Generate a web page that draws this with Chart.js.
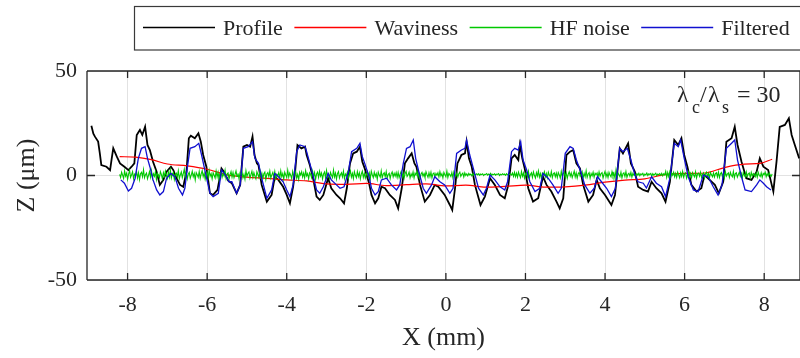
<!DOCTYPE html>
<html>
<head>
<meta charset="utf-8">
<script src="https://cdn.jsdelivr.net/npm/chart.js@4"></script>
<style>
  html, body { margin: 0; padding: 0; background: #fff; }
  #wrap { width: 800px; height: 358px; }
</style>
</head>
<body>
<div id="wrap"><canvas id="chart" width="800" height="358"></canvas></div>
<script>
// tick labels
const xTicks = [-8, -6, -4, -2, 0, 2, 4, 6, 8];
const yTicks = [-50, 0, 50];

// measured profile (mm, um)
const profileX = [-8.91,-8.86,-8.82,-8.74,-8.70,-8.66,-8.53,-8.44,-8.40,-8.36,-8.27,-8.19,-8.08,-7.98,-7.90,-7.83,-7.77,-7.69,-7.63,-7.56,
  -7.50,-7.44,-7.36,-7.27,-7.19,-7.10,-7.02,-6.91,-6.85,-6.77,-6.68,-6.60,-6.52,-6.46,-6.41,-6.31,-6.22,-6.16,-6.10,-6.02,
  -5.93,-5.85,-5.74,-5.64,-5.58,-5.47,-5.38,-5.26,-5.17,-5.09,-5.00,-4.92,-4.86,-4.81,-4.75,-4.71,-4.63,-4.50,-4.38,-4.30,
  -4.21,-4.09,-4.00,-3.92,-3.84,-3.79,-3.73,-3.63,-3.54,-3.50,-3.42,-3.33,-3.25,-3.17,-3.08,-2.96,-2.88,-2.75,-2.66,-2.56,
  -2.49,-2.41,-2.33,-2.24,-2.16,-2.10,-2.04,-1.93,-1.87,-1.78,-1.70,-1.62,-1.53,-1.41,-1.28,-1.20,-1.11,-1.03,-0.95,-0.86,
  -0.79,-0.74,-0.65,-0.53,-0.40,-0.28,-0.19,-0.03,0.10,0.16,0.23,0.29,0.39,0.48,0.52,0.58,0.65,0.73,0.87,0.98,
  1.11,1.23,1.36,1.48,1.57,1.65,1.73,1.82,1.86,1.92,1.98,2.07,2.19,2.32,2.44,2.53,2.65,2.78,2.86,2.95,
  3.03,3.12,3.20,3.28,3.37,3.45,3.58,3.70,3.79,3.87,4.00,4.16,4.25,4.37,4.45,4.58,4.65,4.75,4.83,4.96,
  5.08,5.17,5.29,5.42,5.52,5.63,5.74,5.84,5.92,5.99,6.07,6.17,6.30,6.42,6.50,6.63,6.76,6.86,6.97,7.05,
  7.18,7.26,7.33,7.43,7.55,7.68,7.81,7.89,7.98,8.10,8.23,8.31,8.39,8.52,8.62,8.69,8.77,8.88];
const profileZ = [23.8,20.0,18.6,16.2,11.0,5.0,4.2,2.6,8.0,13.0,9.0,5.8,4.2,2.6,4.2,5.8,19.4,21.8,19.4,23.3,
  14.6,12.2,6.6,1.8,-4.5,-2.1,1.8,4.2,2.6,-1.3,-4.5,-5.4,1.8,17.8,19.0,17.8,20.2,16.2,9.8,4.2,
  -8.5,-9.3,-6.9,3.4,1.8,-2.5,-3.7,-8.5,-4.5,13.8,14.6,13.8,18.6,9.8,5.8,5.0,-4.5,-12.5,-9.3,-0.6,
  -2.1,-5.4,-9.3,-13.3,-5.4,1.8,14.6,13.0,13.8,9.8,5.0,-2.1,-10.1,-11.7,-9.3,-1.3,-6.1,-9.3,-10.9,-13.3,
  -6.1,5.8,10.6,11.4,13.8,6.6,3.4,-3.7,-9.3,-13.3,-10.9,-5.4,-6.1,-9.3,-11.7,-15.7,-6.1,5.8,8.2,10.6,
  5.8,4.2,-4.5,-12.5,-9.3,-4.5,-5.4,-9.3,-14.1,-16.5,-6.1,5.8,9.8,10.6,16.2,8.2,4.2,-4.5,-14.1,-10.1,
  -1.3,-4.5,-9.3,-10.9,-4.5,8.2,9.8,7.4,14.6,8.2,3.4,-6.1,-12.5,-10.9,-0.6,-4.5,-7.7,-12.5,-15.7,-10.9,
  9.8,11.4,12.2,5.8,3.4,-4.5,-12.5,-9.3,-2.1,-6.1,-9.3,-14.1,-9.3,13.0,10.6,15.4,5.8,1.8,-5.4,-6.9,
  -7.7,-3.0,-6.1,-8.5,-12.5,-3.0,17.0,14.6,17.8,9.8,4.2,-4.5,-7.7,-6.1,0.2,-2.1,-4.5,-8.5,-3.0,16.2,
  17.8,23.3,14.6,6.6,-1.3,-2.1,1.8,8.2,4.2,2.6,-7.7,6.6,23.3,24.2,27.4,19.4,14.6,8.2];

// waviness (long wavelength component)
const wavX = [-8.2,-7.8,-7.4,-7.0,-6.5,-6.0,-5.5,-5.0,-4.5,-4.0,-3.5,-3.0,-2.5,-2.0,-1.5,-1.0,-0.5,0.0,
  0.5,1.0,1.5,2.0,2.5,3.0,3.5,4.0,4.5,5.0,5.5,6.0,6.5,7.0,7.5,7.9,8.2];
const wavZ = [9.0,8.8,7.6,5.5,4.6,3.0,0.3,-0.8,-1.4,-2.1,-2.6,-4.0,-4.2,-3.8,-4.8,-4.4,-4.0,-5.0,
  -4.6,-5.6,-5.2,-4.6,-5.6,-5.4,-4.6,-3.2,-2.2,-1.6,0.4,1.0,1.2,3.8,5.4,5.8,7.8];

// high frequency noise, sampled every 0.025 mm from -8.2 mm
const noiseStart = -8.2;
const noiseStep = 0.025;
const noiseZ = [
  0.5,-1.0,1.6,0.2,-1.4,2.2,-0.3,1.1,-1.8,0.7,2.4,-0.9,0.3,1.8,-1.5,0.6,-0.2,2.0,-1.2,1.3,-2.0,0.9,1.5,-0.6,2.8,-1.1,0.4,1.2,-1.6,0.1,1.9,-0.8,2.3,-1.3,0.8,-0.4,1.7,-1.9,1.0,0.2,
  -1.1,1.8,0.4,-1.7,1.3,-0.5,2.1,0.0,-1.4,1.6,-0.8,2.6,-1.2,0.7,1.4,-1.9,0.5,1.1,-0.7,2.2,-1.5,0.3,1.7,-1.0,0.9,3.0,-0.9,1.2,-1.6,0.6,1.5,-1.3,0.2,2.0,-0.6,1.0,-2.1,1.4,0.4,-0.9,
  1.9,-1.4,0.8,2.3,-0.5,1.1,-1.8,0.4,1.6,-1.0,2.4,-0.3,0.9,-1.6,1.3,0.1,-1.2,2.1,-0.7,1.5,-2.0,0.6,1.8,-0.9,1.0,-0.2,2.5,-1.4,0.7,1.2,-1.7,0.3,1.9,-0.8,1.4,-1.1,0.5,2.2,-0.4,1.0,
  -1.5,1.2,0.2,1.9,-1.1,0.6,-1.8,2.3,-0.4,1.0,1.7,-1.3,0.4,2.0,-0.9,1.3,-0.3,-1.6,1.8,0.5,-1.0,2.4,-0.6,1.1,-1.4,0.8,1.6,-1.9,0.7,1.4,-0.5,2.1,-1.2,0.3,1.5,-0.8,1.9,-1.5,0.6,0.0,
  1.4,-1.2,2.2,-0.6,0.9,-1.7,1.6,0.3,-1.0,2.5,-0.8,1.2,0.1,-1.5,1.9,-0.4,0.8,2.0,-1.3,0.5,-1.9,1.5,0.2,1.8,-0.7,1.1,-1.2,2.3,-0.2,0.9,-1.6,1.3,0.6,-1.0,2.1,-0.5,1.4,-1.8,0.7,1.6,
  -0.9,2.0,-0.3,1.2,-1.6,0.8,1.7,-1.1,2.4,-0.5,0.6,-1.4,1.5,0.2,-1.0,2.6,-0.7,1.1,-1.7,0.9,1.9,-1.2,0.4,1.3,-0.6,2.1,-1.5,0.7,-0.2,1.6,-1.3,0.5,2.2,-0.8,1.0,-1.5,1.8,0.1,-1.1,1.9,
  -0.5,1.3,-1.6,0.8,2.1,-0.9,1.0,-1.3,0.4,1.8,-0.7,1.2,-1.5,2.0,0.3,-1.0,1.5,-0.4,0.9,-1.8,1.6,0.2,-0.8,2.2,-1.1,0.7,1.3,-0.6,1.9,-1.2,0.5,1.1,-1.4,0.8,1.7,-0.7,1.0,-0.3,1.4,-0.9,
  1.5,-1.0,0.6,1.9,-0.7,1.2,-1.3,0.9,2.0,-0.5,0.3,1.6,-1.1,0.8,-0.4,1.7,-1.2,1.1,0.2,2.1,-0.8,1.0,-1.4,0.7,1.5,-0.3,0.9,-1.0,1.8,0.4,-0.9,1.3,-0.6,1.6,-1.1,0.8,1.2,-0.5,1.0,0.1,
  1.3,-0.7,1.8,-0.2,0.9,-1.1,1.5,0.3,-0.6,2.1,-0.9,1.0,0.4,-0.5,1.4,-1.0,1.7,0.2,-0.3,1.2,-0.8,0.9,1.6,-0.4,0.6,1.1,-0.7,1.3,0.0,0.8,-0.2,1.0,0.3,0.7,-0.1,0.9,0.2,0.6,0.4,0.8,
  0.3,0.9,0.1,0.7,0.4,0.8,0.0,0.6,0.5,0.9,0.2,0.7,0.3,1.0,0.1,0.6,0.4,0.8,0.2,0.7,0.5,0.9,0.0,0.6,0.3,0.8,0.4,0.7,0.1,0.9,0.3,0.6,0.5,0.8,0.2,1.2,-0.4,1.5,-0.6,1.1,
  -0.8,1.6,0.2,-1.0,1.9,-0.4,1.2,-1.3,0.7,1.5,-0.6,2.0,-1.1,0.5,1.3,-0.9,1.7,0.1,-1.2,1.4,-0.3,2.2,-0.8,0.9,-1.4,1.1,0.4,1.8,-0.7,1.0,-1.1,1.6,0.2,-0.5,1.9,-1.0,0.8,1.3,-0.6,1.2,
  -1.0,1.4,0.3,-1.2,2.0,-0.5,0.9,1.6,-0.9,1.1,-1.4,0.6,1.8,-0.3,1.2,-1.0,0.5,2.1,-0.7,1.3,-1.2,0.8,1.5,-0.4,0.2,1.7,-1.1,1.0,-0.6,2.3,-0.9,0.7,1.4,-1.3,0.9,-0.2,1.6,-0.8,1.1,0.4,
  1.2,-0.8,1.7,-0.3,0.9,1.4,-1.2,0.6,2.0,-0.6,1.1,-1.0,1.5,0.2,-0.7,1.8,-0.4,1.0,-1.3,2.6,-0.9,1.2,0.3,-0.6,1.6,-1.1,0.8,1.3,-0.5,1.9,-0.9,0.6,1.1,-0.3,1.5,-0.8,1.0,0.2,0.7,-0.2,
  0.9,0.2,1.1,-0.1,0.8,0.4,1.0,-0.2,0.7,0.3,1.2,0.0,0.8,0.5,1.0,-0.3,0.9,0.2,0.6,1.1,-0.1,0.7,0.4,0.9,0.1,1.0,-0.2,0.8,0.3,2.0,-0.9,1.4,-0.5,1.7,-0.8,1.2,0.1,1.5,-0.6,1.0,
  -0.9,1.6,0.3,-1.1,1.3,-0.4,1.9,-0.8,0.7,1.2,-1.3,0.5,1.8,-0.6,1.0,-1.0,1.4,0.2,-0.7,1.7,-1.2,0.8,1.1,-0.4,1.5,-0.9,0.6,1.3,-1.1,0.9,1.6,-0.5,1.0,-1.0,1.4,0.3,-0.6,1.2,-0.8,0.9,
  1.3,-0.7,1.6,-1.0,0.8,1.4,-0.5,1.1,-1.2,1.8,-0.3,0.7,1.2,-0.9,1.5,0.1,-0.6,1.9,-1.1,0.9,1.3,-0.8,0.5,1.6,-0.4,1.0,-1.2,1.4,0.2,-0.7,1.7,-0.5,0.8,1.2,-1.0,1.5,-0.3,0.9,0.4,-0.6,
  1.2,-0.8,1.5,0.1,-0.5,1.3,-0.9,1.0,0.4,1.6,-0.6,0.9,-0.2,1.2,0.3,-0.4,0.8];

// filtered profile
const filtX = [-8.17,-8.08,-7.98,-7.90,-7.81,-7.73,-7.65,-7.56,-7.50,-7.44,-7.36,-7.27,-7.19,-7.10,-7.02,-6.91,-6.81,-6.72,-6.62,-6.56,
  -6.49,-6.43,-6.31,-6.21,-6.14,-6.05,-5.93,-5.85,-5.72,-5.64,-5.55,-5.45,-5.38,-5.26,-5.17,-5.09,-4.97,-4.86,-4.80,-4.71,
  -4.63,-4.50,-4.38,-4.30,-4.21,-4.09,-4.00,-3.92,-3.84,-3.75,-3.67,-3.54,-3.50,-3.42,-3.33,-3.25,-3.17,-3.08,-2.96,-2.88,
  -2.75,-2.66,-2.56,-2.45,-2.37,-2.24,-2.16,-2.10,-2.04,-1.93,-1.87,-1.78,-1.70,-1.62,-1.49,-1.37,-1.24,-1.16,-1.07,-0.99,
  -0.90,-0.82,-0.76,-0.68,-0.57,-0.49,-0.36,-0.28,-0.15,-0.03,0.10,0.18,0.27,0.39,0.48,0.52,0.60,0.69,0.82,0.94,
  1.02,1.11,1.23,1.36,1.48,1.55,1.60,1.65,1.73,1.82,1.88,1.94,2.03,2.11,2.24,2.36,2.44,2.57,2.69,2.82,
  2.90,3.00,3.12,3.20,3.28,3.39,3.49,3.62,3.73,3.81,3.91,4.04,4.16,4.26,4.37,4.45,4.56,4.65,4.75,4.83,
  4.96,5.04,5.17,5.29,5.42,5.52,5.63,5.74,5.84,5.90,5.99,6.09,6.22,6.34,6.47,6.59,6.72,6.84,6.94,7.05,
  7.18,7.26,7.33,7.43,7.52,7.68,7.81,7.89,7.98,8.06,8.17];
const filtZ = [-2.1,-3.7,-7.4,-6.1,-1.3,8.2,13.0,13.8,8.2,4.2,-2.1,-6.9,-9.3,-7.7,-1.3,1.0,-0.6,-6.1,-9.3,-6.1,
  5.0,13.0,13.8,15.4,9.8,1.8,-8.5,-10.1,-8.5,2.6,0.5,-3.0,-3.0,-8.5,-4.5,13.0,13.8,16.2,8.2,5.8,
  -1.3,-10.9,-6.9,1.0,-0.6,-3.0,-6.9,-10.1,-4.5,11.4,14.6,13.8,11.4,5.8,-0.6,-6.9,-8.5,-5.4,1.0,-2.1,
  -4.5,-6.1,-5.4,1.8,11.4,13.0,15.4,9.0,5.8,-0.6,-6.1,-9.3,-7.7,-2.1,-1.3,-4.5,-6.9,-4.5,5.8,13.0,
  13.8,17.0,8.2,1.8,-6.1,-8.5,-4.5,-0.6,-3.0,-4.5,-8.5,-6.1,10.6,12.2,13.0,17.0,9.8,3.4,-6.1,-9.3,
  -6.1,0.2,-2.1,-5.4,-6.9,-3.0,4.0,11.4,13.0,12.2,16.2,7.4,2.6,-3.0,-7.7,-6.1,1.0,-1.3,-4.5,-8.5,
  -6.1,10.6,13.8,13.0,7.4,1.8,-4.5,-8.5,-6.1,-0.6,-3.0,-6.1,-10.1,-6.1,13.0,11.4,13.0,7.4,0.2,-3.0,
  -3.7,-6.0,-0.6,-3.7,-5.4,-10.1,-1.3,15.4,13.8,17.0,8.2,-0.6,-6.9,-7.7,0.2,-0.6,-5.4,-9.3,-4.5,13.0,
  15.4,17.0,7.4,-0.6,-6.9,-7.7,-4.5,-2.1,-3.7,-5.4,-6.9];

const labels = ['Profile', 'Waviness', 'HF noise', 'Filtered'];
const colors = ['#000000', '#ff0000', '#00c800', '#1010d0'];

const serif = '"Liberation Serif", "Times New Roman", serif';
const ink = '#262626';

function pts(xs, zs) {
  return xs.map((x, i) => ({x: x, y: zs[i]}));
}
const noisePts = noiseZ.map((z, i) => ({x: noiseStart + i * noiseStep, y: z}));

// box + inward tick marks like the original figure
const frame = {
  id: 'frame',
  afterDatasetsDraw(chart) {
    const {ctx, chartArea: {left, top, right, bottom}, scales: {x, y}} = chart;
    ctx.save();
    ctx.strokeStyle = ink;
    ctx.lineWidth = 1.3;
    ctx.beginPath();
    ctx.moveTo(left, top); ctx.lineTo(right, top);
    ctx.moveTo(left, bottom); ctx.lineTo(right, bottom);
    ctx.moveTo(left, top); ctx.lineTo(left, bottom);
    ctx.moveTo(right, top); ctx.lineTo(right, bottom);
    xTicks.forEach(v => {
      const px = x.getPixelForValue(v);
      ctx.moveTo(px, bottom); ctx.lineTo(px, bottom - 7);
      ctx.moveTo(px, top); ctx.lineTo(px, top + 7);
    });
    yTicks.forEach(v => {
      const py = y.getPixelForValue(v);
      ctx.moveTo(left, py); ctx.lineTo(left + 8, py);
      ctx.moveTo(right, py); ctx.lineTo(right - 8, py);
    });
    ctx.stroke();
    ctx.restore();
  }
};

// legend in a box across the top
const boxLegend = {
  id: 'boxLegend',
  afterDraw(chart) {
    const ctx = chart.ctx;
    ctx.save();
    ctx.strokeStyle = '#3a3a3a';
    ctx.lineWidth = 1.2;
    ctx.strokeRect(134.5, 6.5, 700, 43.5);
    ctx.font = '22px ' + serif;
    ctx.textBaseline = 'alphabetic';
    let cx = 143;
    labels.forEach((lab, i) => {
      ctx.strokeStyle = colors[i];
      ctx.lineWidth = 1.3;
      ctx.beginPath();
      ctx.moveTo(cx, 27.5);
      ctx.lineTo(cx + 72, 27.5);
      ctx.stroke();
      ctx.fillStyle = ink;
      ctx.fillText(lab, cx + 80, 35);
      cx += 80 + ctx.measureText(lab).width + 11.5;
    });
    ctx.restore();
  }
};

// lambda_c / lambda_s = 30
const ratioNote = {
  id: 'ratioNote',
  afterDraw(chart) {
    const ctx = chart.ctx;
    const big = '24px ' + serif;
    const small = '18px ' + serif;
    const parts = [
      ['\u03bb', big, 677, 102], ['c', small, 692, 113], ['/', big, 700, 102],
      ['\u03bb', big, 708, 102], ['s', small, 722, 113], ['= 30', big, 737, 102]
    ];
    ctx.save();
    ctx.fillStyle = ink;
    ctx.textBaseline = 'alphabetic';
    parts.forEach(p => {
      ctx.font = p[1];
      ctx.fillText(p[0], p[2], p[3]);
    });
    ctx.restore();
  }
};

function line(i, data, extra) {
  return Object.assign({
    label: labels[i],
    data: data,
    showLine: true,
    borderColor: colors[i],
    backgroundColor: colors[i],
    borderWidth: 1.3,
    pointRadius: 0,
    fill: false,
    order: 4 - i
  }, extra || {});
}

new Chart(document.getElementById('chart'), {
  type: 'scatter',
  data: {
    datasets: [
      line(0, pts(profileX, profileZ), {borderWidth: 1.8}),
      line(1, pts(wavX, wavZ), {cubicInterpolationMode: 'monotone', borderWidth: 1.2}),
      line(2, noisePts, {borderWidth: 1.1}),
      line(3, pts(filtX, filtZ), {borderWidth: 1.3})
    ]
  },
  options: {
    responsive: false,
    animation: false,
    events: [],
    layout: { padding: { top: 71, left: 0, right: 0, bottom: 0 } },
    plugins: { legend: { display: false }, tooltip: { enabled: false } },
    scales: {
      x: {
        type: 'linear',
        min: -9.02,
        max: 8.9,
        afterBuildTicks: axis => { axis.ticks = xTicks.map(v => ({value: v})); },
        afterFit: axis => { axis.height = 78; },
        grid: { color: '#e2e2e2', lineWidth: 1, drawTicks: false },
        border: { display: false },
        ticks: { font: { family: serif, size: 22 }, color: ink, padding: 12, maxRotation: 0 },
        title: { display: true, text: 'X (mm)', font: { family: serif, size: 26 }, color: ink, padding: { top: 0, bottom: 4 } }
      },
      y: {
        min: -50,
        max: 50,
        afterBuildTicks: axis => { axis.ticks = yTicks.map(v => ({value: v})); },
        afterFit: axis => { axis.width = 87; },
        grid: { color: '#e2e2e2', lineWidth: 1, drawTicks: false },
        border: { display: false },
        ticks: { font: { family: serif, size: 22 }, color: ink, padding: 10 },
        title: { display: true, text: 'Z (\u03bcm)', font: { family: serif, size: 26 }, color: ink, padding: { top: 12, bottom: 0 } }
      }
    }
  },
  plugins: [frame, boxLegend, ratioNote]
});
</script>
</body>
</html>
